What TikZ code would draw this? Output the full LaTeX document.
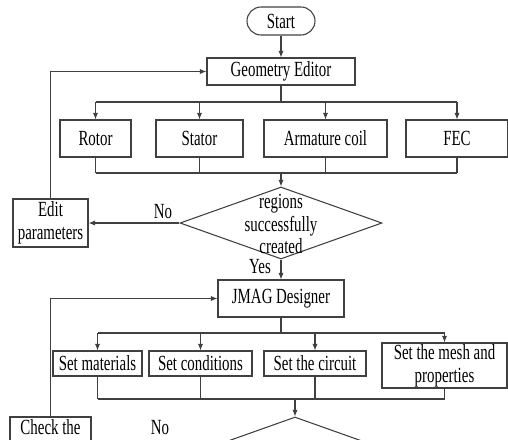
\documentclass[tikz,border=0pt]{standalone}
\usepackage{fontspec}
\setmainfont{Liberation Serif}[FakeStretch=0.69]
\usetikzlibrary{arrows.meta,shapes.geometric}
\begin{document}
\begin{tikzpicture}[x=0.75pt,y=-0.75pt,
  every node/.style={font=\fontsize{16.2}{17}\selectfont},
  box/.style={draw=black!75,line width=0.8pt,inner sep=0pt,align=center},
  ln/.style={draw=black!75,line width=0.8pt},
  arr/.style={ln,-{Latex[length=5pt,width=4pt]}},
  dia/.style={draw=black!75,line width=0.8pt,shape=diamond,inner sep=0pt,aspect=2.8}]
\useasboundingbox (0,0) rectangle (508,440);
\clip (0,0) rectangle (508,440);
% nodes
\node[box,rounded corners=10.5pt,minimum width=51pt,minimum height=21pt] (start) at (281,21) {Start};
\node[box,minimum width=111pt,minimum height=20.25pt] (geo) at (281,71.5) {Geometry Editor};
\node[box,minimum width=53.25pt,minimum height=27.75pt] (rotor) at (95.5,138.5) {Rotor};
\node[box,minimum width=65.25pt,minimum height=27.75pt] (stator) at (199.5,138.5) {Stator};
\node[box,minimum width=92.25pt,minimum height=27.75pt] (arm) at (325.5,138.5) {Armature coil};
\node[box,minimum width=76.5pt,minimum height=27.75pt] (fec) at (457,138.5) {FEC};
\node[dia,minimum width=151.5pt,minimum height=54pt] (d1) at (281,223) {};
\node[align=center,inner sep=0pt] (d1t) at (281,224) {regions\\successfully\\created};
\node[box,minimum width=56.25pt,minimum height=36pt] (edit) at (50.5,223) {Edit\\parameters};
\node[box,minimum width=94.5pt,minimum height=27.75pt] (jmag) at (281,298.5) {JMAG Designer};
\node[box,minimum width=66.75pt,minimum height=18.75pt] (mat) at (97.5,363.5) {Set materials};
\node[box,minimum width=77.25pt,minimum height=18.75pt] (cond) at (200.5,363.5) {Set conditions};
\node[box,minimum width=76.5pt,minimum height=18.75pt] (circ) at (315,363.5) {Set the circuit};
\node[box,minimum width=93.75pt,minimum height=33.75pt] (mesh) at (444.5,365.5) {Set the mesh and\\properties};
\node[dia,minimum width=151.5pt,minimum height=54pt] (d2) at (295,453) {};
\node[box,minimum width=60.75pt,minimum height=36pt] (check) at (50.5,441) {};
\node[inner sep=0pt,anchor=base] (checkt) at (50.5,434) {Check the};
\node[inner sep=0pt,anchor=base] (no1) at (163,218) {No};
\node[inner sep=0pt,anchor=base] (yes) at (260,273) {Yes};
\node[inner sep=0pt,anchor=base] (no2) at (160,434) {No};
% bus coordinates
\coordinate (b1) at (0,102);
\coordinate (b2) at (0,173);
\coordinate (b3) at (0,333);
\coordinate (b4) at (0,399);
% connectors
\draw[arr] (start) -- (geo);
\draw[ln] (geo.south) -- (geo.south |- b1);
\draw[ln] (rotor.north |- b1) -- (fec.north |- b1);
\foreach \n in {rotor,stator,arm,fec} \draw[arr] (\n.north |- b1) -- (\n.north);
\foreach \n in {rotor,stator,arm,fec} \draw[ln] (\n.south) -- (\n.south |- b2);
\draw[ln] (rotor.south |- b2) -- (fec.south |- b2);
\draw[arr] (d1.north |- b2) -- (d1.north);
\draw[arr] (d1.west) -- (edit.east);
\draw[arr] (edit.north) |- (geo.west);
\draw[arr] (d1.south) -- (jmag.north);
\draw[ln] (jmag.south) -- (jmag.south |- b3);
\draw[ln] (mat.north |- b3) -- (mesh.north |- b3);
\foreach \n in {mat,cond,circ,mesh} \draw[arr] (\n.north |- b3) -- (\n.north);
\foreach \n in {mat,cond,circ,mesh} \draw[ln] (\n.south) -- (\n.south |- b4);
\draw[ln] (mat.south |- b4) -- (mesh.south |- b4);
\draw[arr] (d2.north |- b4) -- (d2.north);
\draw[arr] (check.north) |- (jmag.west);
\end{tikzpicture}
\end{document}
